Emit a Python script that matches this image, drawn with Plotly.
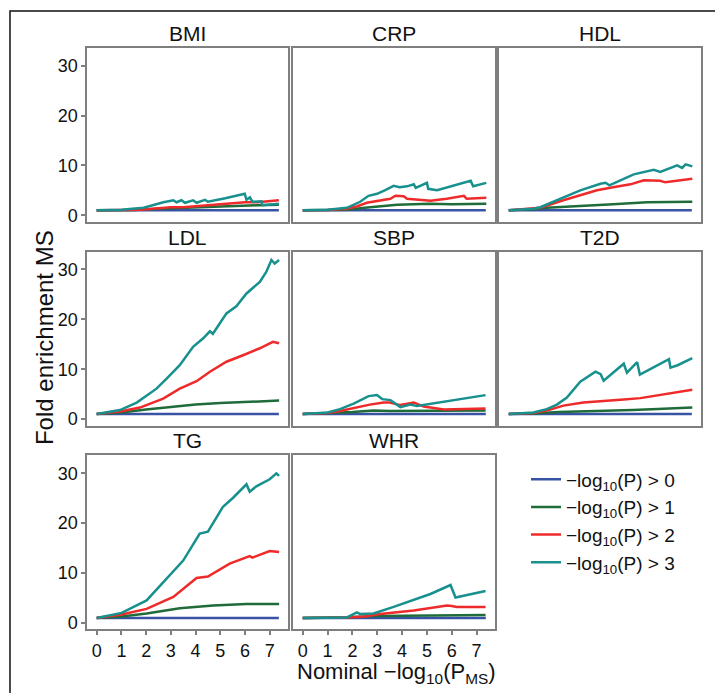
import plotly.graph_objects as go

# ---------------- data ----------------
PANELS = ["BMI", "CRP", "HDL", "LDL", "SBP", "T2D", "TG", "WHR"]
SERIES = ["−log<sub>10</sub>(P) > 0", "−log<sub>10</sub>(P) > 1",
          "−log<sub>10</sub>(P) > 2", "−log<sub>10</sub>(P) > 3"]
COLORS = ["#3953A4", "#1F6B3A", "#EE2A2A", "#17908E"]
X_TICKS = [0, 1, 2, 3, 4, 5, 6, 7]
Y_TICKS = [0, 10, 20, 30]

GT0_X = [0, 7.37]
GT0_Y = [1, 1]

BMI_GT1_X = [0, 1.5, 2.5, 3.5, 4.5, 5.5, 6.5, 7.37]
BMI_GT1_Y = [1, 1.05, 1.3, 1.5, 1.6, 1.8, 2.0, 2.1]
BMI_GT2_X = [0, 1.8, 2.5, 3.0, 3.5, 4.0, 4.5, 5.0, 5.5, 6.0, 6.5, 7.0, 7.37]
BMI_GT2_Y = [1, 1.1, 1.4, 1.6, 1.6, 1.8, 1.9, 2.1, 2.3, 2.6, 2.6, 2.8, 3.0]
BMI_GT3_X = [0, 1.0, 1.9, 2.3, 2.7, 3.1, 3.23, 3.43, 3.57, 3.9, 4.04, 4.38, 4.5, 5.2, 5.99, 6.06, 6.2, 6.3, 6.66, 6.7, 7.0, 7.37]
BMI_GT3_Y = [1, 1.1, 1.5, 2.1, 2.6, 3.0, 2.6, 3.0, 2.5, 3.0, 2.5, 3.1, 2.7, 3.4, 4.3, 3.1, 3.6, 2.7, 2.8, 2.0, 2.1, 2.3]

CRP_GT1_X = [0, 1, 1.78, 2.5, 3.2, 3.8, 5.1, 6.0, 7.39]
CRP_GT1_Y = [1, 1.0, 1.1, 1.5, 1.9, 2.1, 2.3, 2.2, 2.3]
CRP_GT2_X = [0, 1, 1.78, 2.2, 2.58, 3.0, 3.53, 3.73, 4.06, 4.2, 5.14, 5.8, 6.49, 6.6, 7.39]
CRP_GT2_Y = [1, 1.05, 1.3, 1.8, 2.5, 2.8, 3.3, 3.9, 3.8, 3.3, 2.9, 3.3, 3.9, 3.3, 3.5]
CRP_GT3_X = [0, 1, 1.78, 2.31, 2.65, 2.99, 3.3, 3.66, 3.9, 4.2, 4.47, 4.55, 5.0, 5.05, 5.41, 6.76, 6.86, 7.39]
CRP_GT3_Y = [1, 1.1, 1.5, 2.7, 3.9, 4.3, 5.0, 5.9, 5.6, 5.8, 6.2, 5.5, 6.5, 5.3, 5.0, 6.9, 5.8, 6.5]

HDL_GT1_X = [0, 1, 1.53, 2.5, 3.5, 4.2, 5.57, 6.5, 7.39]
HDL_GT1_Y = [1, 1.2, 1.5, 1.8, 2.0, 2.2, 2.6, 2.6, 2.7]
HDL_GT2_X = [0, 1, 1.27, 2.2, 2.9, 3.55, 4.2, 4.9, 5.44, 6.1, 6.3, 7.0, 7.39]
HDL_GT2_Y = [1, 1.3, 1.5, 3.0, 4.0, 5.0, 5.6, 6.2, 7.0, 6.9, 6.6, 7.1, 7.3]
HDL_GT3_X = [0, 1, 1.27, 2.07, 2.88, 3.69, 3.9, 4.05, 4.5, 5.03, 5.84, 6.1, 6.78, 6.98, 7.12, 7.39]
HDL_GT3_Y = [1, 1.3, 1.6, 3.3, 5.0, 6.3, 6.5, 6.0, 7.0, 8.2, 9.1, 8.7, 10.0, 9.5, 10.2, 9.8]

LDL_GT1_X = [0, 1, 2, 3, 4, 5, 6, 7, 7.38]
LDL_GT1_Y = [1, 1.3, 1.9, 2.4, 2.9, 3.2, 3.4, 3.6, 3.7]
LDL_GT2_X = [0, 0.94, 1.75, 2.69, 3.36, 4.04, 4.58, 5.25, 5.92, 6.6, 7.13, 7.38]
LDL_GT2_Y = [1, 1.5, 2.3, 4.1, 6.1, 7.6, 9.5, 11.5, 12.8, 14.2, 15.5, 15.2]
LDL_GT3_X = [0, 0.94, 1.62, 2.42, 2.83, 3.36, 3.9, 4.31, 4.58, 4.7, 5.25, 5.65, 6.06, 6.6, 6.86, 7.07, 7.2, 7.38]
LDL_GT3_Y = [1, 1.8, 3.3, 6.1, 8.1, 10.8, 14.5, 16.2, 17.6, 17.1, 21.2, 22.6, 25.2, 27.5, 29.5, 31.9, 31.2, 31.9]

SBP_GT1_X = [0, 1, 1.5, 2.0, 2.85, 3.5, 5.0, 7.36]
SBP_GT1_Y = [1, 1.1, 1.3, 1.4, 1.7, 1.6, 1.6, 1.7]
SBP_GT2_X = [0, 1, 1.5, 2.18, 2.7, 3.26, 3.5, 3.93, 4.47, 4.87, 5.68, 6.5, 7.36]
SBP_GT2_Y = [1, 1.2, 1.6, 2.3, 2.9, 3.3, 3.3, 2.8, 3.3, 2.5, 1.9, 2.0, 2.1]
SBP_GT3_X = [0, 1, 1.5, 2.05, 2.65, 2.99, 3.2, 3.53, 3.93, 4.33, 4.6, 5.0, 7.36]
SBP_GT3_Y = [1, 1.3, 2.0, 3.1, 4.6, 4.8, 4.0, 3.8, 2.4, 2.9, 2.6, 2.9, 4.8]

T2D_GT1_X = [0, 1, 2, 3, 4, 5, 6, 7.39]
T2D_GT1_Y = [1, 1.1, 1.4, 1.5, 1.6, 1.8, 2.0, 2.3]
T2D_GT2_X = [0, 1, 1.53, 2.2, 3.0, 3.96, 4.63, 5.3, 5.98, 6.7, 7.39]
T2D_GT2_Y = [1, 1.2, 1.7, 2.7, 3.3, 3.6, 3.9, 4.2, 4.8, 5.3, 5.9]
T2D_GT3_X = [0, 1, 1.53, 1.94, 2.34, 2.88, 3.49, 3.7, 3.82, 4.63, 4.76, 5.17, 5.28, 6.45, 6.51, 6.8, 7.39]
T2D_GT3_Y = [1, 1.3, 2.0, 2.9, 4.3, 7.5, 9.5, 9.0, 7.7, 11.1, 9.3, 11.4, 8.9, 12.0, 10.3, 10.8, 12.2]

TG_GT1_X = [0, 1.01, 2.02, 3.36, 4.71, 6.06, 7.38]
TG_GT1_Y = [1, 1.3, 1.9, 2.95, 3.5, 3.8, 3.8]
TG_GT2_X = [0, 1.01, 2.02, 3.1, 4.04, 4.5, 5.38, 6.19, 6.3, 7.0, 7.38]
TG_GT2_Y = [1, 1.7, 2.8, 5.2, 9.0, 9.3, 11.9, 13.4, 13.1, 14.4, 14.2]
TG_GT3_X = [0, 1.01, 2.02, 2.96, 3.5, 4.17, 4.5, 5.11, 5.52, 6.06, 6.19, 6.46, 7.0, 7.27, 7.38]
TG_GT3_Y = [1, 2.0, 4.5, 9.7, 12.5, 17.9, 18.3, 23.3, 25.1, 27.8, 26.3, 27.4, 28.8, 30.0, 29.5]

WHR_GT1_X = [0, 1.78, 3, 4.47, 7.36]
WHR_GT1_Y = [1, 1.14, 1.4, 1.5, 1.6]
WHR_GT2_X = [0, 1.78, 2.5, 3.12, 4.47, 5.2, 5.81, 6.0, 6.2, 7.36]
WHR_GT2_Y = [1, 1.07, 1.3, 1.8, 2.5, 3.0, 3.5, 3.4, 3.2, 3.2]
WHR_GT3_X = [0, 1.78, 2.18, 2.3, 2.85, 3.66, 5.14, 5.95, 6.15, 7.36]
WHR_GT3_Y = [1, 1.1, 2.1, 1.8, 1.9, 3.2, 5.8, 7.6, 5.1, 6.4]

DATA = {
    "BMI": [(GT0_X, GT0_Y), (BMI_GT1_X, BMI_GT1_Y), (BMI_GT2_X, BMI_GT2_Y), (BMI_GT3_X, BMI_GT3_Y)],
    "CRP": [(GT0_X, GT0_Y), (CRP_GT1_X, CRP_GT1_Y), (CRP_GT2_X, CRP_GT2_Y), (CRP_GT3_X, CRP_GT3_Y)],
    "HDL": [(GT0_X, GT0_Y), (HDL_GT1_X, HDL_GT1_Y), (HDL_GT2_X, HDL_GT2_Y), (HDL_GT3_X, HDL_GT3_Y)],
    "LDL": [(GT0_X, GT0_Y), (LDL_GT1_X, LDL_GT1_Y), (LDL_GT2_X, LDL_GT2_Y), (LDL_GT3_X, LDL_GT3_Y)],
    "SBP": [(GT0_X, GT0_Y), (SBP_GT1_X, SBP_GT1_Y), (SBP_GT2_X, SBP_GT2_Y), (SBP_GT3_X, SBP_GT3_Y)],
    "T2D": [(GT0_X, GT0_Y), (T2D_GT1_X, T2D_GT1_Y), (T2D_GT2_X, T2D_GT2_Y), (T2D_GT3_X, T2D_GT3_Y)],
    "TG": [(GT0_X, GT0_Y), (TG_GT1_X, TG_GT1_Y), (TG_GT2_X, TG_GT2_Y), (TG_GT3_X, TG_GT3_Y)],
    "WHR": [(GT0_X, GT0_Y), (WHR_GT1_X, WHR_GT1_Y), (WHR_GT2_X, WHR_GT2_Y), (WHR_GT3_X, WHR_GT3_Y)],
}

# ---------------- layout geometry ----------------
W, H = 715, 697
COLS_PX = [(87.3, 288.0), (293.3, 495.0), (499.3, 701.0)]
ROWS_PX = [(48.0, 223.0), (253.0, 428.0), (458.0, 633.0)]
FONT = "Liberation Sans, Arial, Helvetica, sans-serif"
BORDER = "#7F7F7F"
INK = "#111111"

fig = go.Figure()
layout = dict(
    width=W, height=H, margin=dict(l=0, r=0, t=0, b=0),
    paper_bgcolor="white", plot_bgcolor="white",
    font=dict(family=FONT, color=INK, size=18),
    showlegend=True,
)
annotations = []

for i, name in enumerate(PANELS):
    r, c = divmod(i, 3)
    ax = "" if i == 0 else str(i + 1)
    x0, x1 = COLS_PX[c]
    y0, y1 = ROWS_PX[r]
    xd = [x0 / W, x1 / W]
    yd = [1 - y1 / H, 1 - y0 / H]
    show_x = name in ("TG", "WHR")
    show_y = c == 0
    layout["xaxis" + ax] = dict(
        domain=xd, anchor="y" + ax, range=[-0.38, 7.74],
        showgrid=False, zeroline=False,
        showline=True, mirror=True, linecolor=BORDER, linewidth=2,
        tickvals=X_TICKS, showticklabels=show_x,
        ticks="outside" if show_x else "", ticklen=4, tickwidth=1.5, tickcolor=BORDER,
        tickfont=dict(size=18, color=INK),
    )
    layout["yaxis" + ax] = dict(
        domain=yd, anchor="x" + ax, range=[-1.3, 33.6],
        showgrid=False, zeroline=False,
        showline=True, mirror=True, linecolor=BORDER, linewidth=2,
        tickvals=Y_TICKS, showticklabels=show_y,
        ticks="outside" if show_y else "", ticklen=4, tickwidth=1.5, tickcolor=BORDER,
        tickfont=dict(size=18, color=INK),
    )
    for k, (xs, ys) in enumerate(DATA[name]):
        fig.add_trace(go.Scatter(
            x=xs, y=ys, mode="lines", name=SERIES[k],
            line=dict(color=COLORS[k], width=2.5),
            xaxis="x" + ax, yaxis="y" + ax,
            legendgroup=str(k), showlegend=(i == 0),
        ))
    annotations.append(dict(
        text=name, x=(x0 + x1) / 2 / W, y=1 - y0 / H, xref="paper", yref="paper",
        xanchor="center", yanchor="bottom", showarrow=False, yshift=1,
        font=dict(size=21, color=INK, family=FONT),
    ))

annotations.append(dict(
    text="Fold enrichment MS", textangle=-90, x=44 / W, y=1 - 340 / H,
    xref="paper", yref="paper", xanchor="center", yanchor="middle", showarrow=False,
    font=dict(size=24, color=INK, family=FONT),
))
annotations.append(dict(
    text="Nominal −log<sub>10</sub>(P<sub>MS</sub>)", x=396 / W, y=1 - 677 / H,
    xref="paper", yref="paper", xanchor="center", yanchor="middle", showarrow=False,
    font=dict(size=22, color=INK, family=FONT),
))
layout["annotations"] = annotations
layout["legend"] = dict(
    x=526 / W, y=1 - 463 / H, xanchor="left", yanchor="top",
    bgcolor="rgba(0,0,0,0)", font=dict(size=19, color=INK, family=FONT),
    itemwidth=30, tracegroupgap=0,
)
layout["shapes"] = [dict(
    type="path", xref="paper", yref="paper",
    path=f"M {10 / W} 0 L {10 / W} {1 - 11 / H} L 1 {1 - 11 / H}",
    line=dict(color=INK, width=1.5),
)]
fig.update_layout(**layout)
fig.write_html(
    "out.html",
    config={"displayModeBar": False},
    post_script="document.body.style.margin='0';document.body.style.overflow='hidden';",
)
